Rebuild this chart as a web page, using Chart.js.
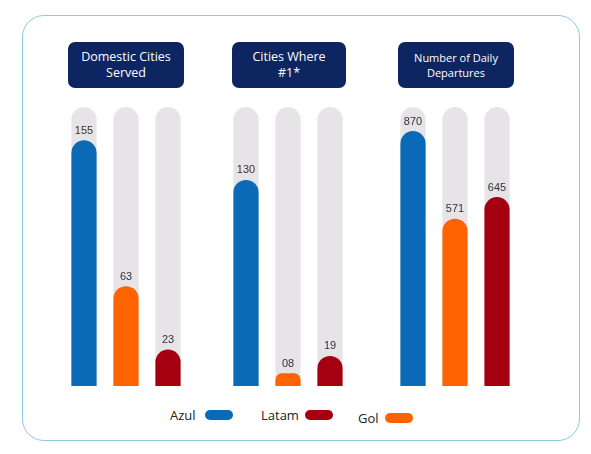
<!DOCTYPE html>
<html>
<head>
<meta charset="utf-8">
<script src="https://cdn.jsdelivr.net/npm/chart.js@4"></script>
<style>
  body { margin: 0; background: #fff; font-family: 'Open Sans', 'Liberation Sans', sans-serif; }
  #frame { position: absolute; left: 22px; top: 15px; width: 556px; height: 424px; border: 1.5px solid #8ccbe0; border-radius: 22px; }
  .title { position: absolute; top: 42px; height: 46px; background: #0d2560; color: #fff; border-radius: 7px;
           display: flex; align-items: center; justify-content: center; text-align: center; font-size: 12.5px; line-height: 16px; }
  .wrap { position: absolute; top: 88px; width: 126px; height: 298px; }
  .leg { position: absolute; top: 406px; font-size: 13px; color: #222; }
  .pill { position: absolute; top: 410px; width: 28px; height: 10px; border-radius: 5px; }
</style>
</head>
<body>
<div id="frame"></div>
<div class="title" style="left:68px;width:116px">Domestic Cities<br>Served</div>
<div class="title" style="left:232px;width:114px">Cities Where<br>#1*</div>
<div class="title" style="left:398px;width:116px;font-size:11px;line-height:15px">Number of Daily<br>Departures</div>
<div class="wrap" style="left:63px"><canvas id="c1"></canvas></div>
<div class="wrap" style="left:225px"><canvas id="c2"></canvas></div>
<div class="wrap" style="left:392px"><canvas id="c3"></canvas></div>
<span class="leg" style="left:170px">Azul</span><div class="pill" style="left:205px;background:#0a6ab5"></div>
<span class="leg" style="left:261px">Latam</span><div class="pill" style="left:305px;background:#a50010"></div>
<span class="leg" style="left:358px;top:409px">Gol</span><div class="pill" style="left:385px;top:413px;background:#ff6300"></div>
<script>
const airlines = ['Azul', 'Gol', 'Latam'];
const colors = ['#0a6ab5', '#ff6300', '#a50010'];
const citiesServed = [155, 63, 23];
const citiesFirst = [130, 8, 19];
const dailyDepartures = [870, 571, 645];
const scaleMax = [176, 176, 952];

const labelPlugin = {
  id: 'valueLabels',
  afterDatasetsDraw(chart) {
    const ctx = chart.ctx;
    const meta = chart.getDatasetMeta(0);
    ctx.save();
    ctx.font = '11px "Liberation Sans", Arial';
    ctx.fillStyle = '#333';
    ctx.textAlign = 'center';
    ctx.textBaseline = 'bottom';
    meta.data.forEach((bar, i) => {
      const v = chart.data.datasets[0].data[i];
      ctx.fillText(String(v).padStart(2, '0'), bar.x, bar.y - 4);
    });
    ctx.restore();
  },
};

function makeChart(id, values, max) {
  new Chart(document.getElementById(id), {
    type: 'bar',
    data: {
      labels: airlines,
      datasets: [
        { data: values, backgroundColor: colors, borderRadius: 13, barPercentage: 0.6, categoryPercentage: 1 },
        { data: airlines.map(() => max), backgroundColor: '#e6e4e6', borderRadius: 13, barPercentage: 0.6, categoryPercentage: 1 },
      ],
    },
    options: {
      responsive: true,
      maintainAspectRatio: false,
      animation: false,
      layout: { padding: { top: 19 } },
      plugins: { legend: { display: false }, tooltip: { enabled: false } },
      scales: {
        x: { stacked: true, display: false },
        y: { stacked: false, display: false, min: 0, max },
      },
    },
    plugins: [labelPlugin],
  });
}

makeChart('c1', citiesServed, scaleMax[0]);
makeChart('c2', citiesFirst, scaleMax[1]);
makeChart('c3', dailyDepartures, scaleMax[2]);
</script>
</body>
</html>
